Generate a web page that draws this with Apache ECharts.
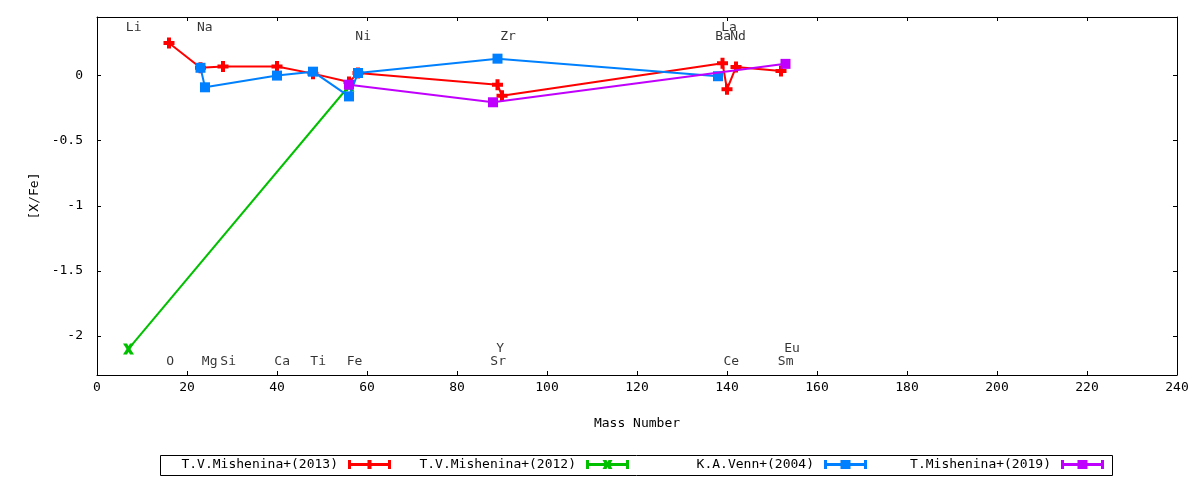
<!DOCTYPE html>
<html>
<head>
<meta charset="utf-8">
<script src="https://cdn.jsdelivr.net/npm/echarts@6/dist/echarts.min.js"></script>
<style>
html,body{margin:0;padding:0;background:#fff;}
#c{width:1200px;height:480px;}
</style>
</head>
<body>
<div id="c"></div>
<script>
// ---- data ----
const seriesNames = ['T.V.Mishenina+(2013)', 'T.V.Mishenina+(2012)', 'K.A.Venn+(2004)', 'T.Mishenina+(2019)'];

const mish2013Mass = [16, 23, 28, 40, 48, 56, 58, 89, 90, 139, 140, 142, 152];
const mish2013Val  = [0.25, 0.06, 0.07, 0.07, 0.015, -0.05, 0.02, -0.07, -0.155, 0.095, -0.105, 0.065, 0.035];

const mish2012Mass = [7, 56];
const mish2012Val  = [-2.1, -0.08];

const venn2004Mass = [23, 24, 40, 48, 56, 58, 89, 138];
const venn2004Val  = [0.06, -0.09, 0.0, 0.03, -0.16, 0.02, 0.13, -0.005];

const mish2019Mass = [56, 88, 153];
const mish2019Val  = [-0.07, -0.205, 0.09];

const elemNames = ['Li', 'Na', 'Ni', 'Zr', 'La', 'Ba', 'Nd', 'O', 'Mg', 'Si', 'Ca', 'Ti', 'Fe', 'Sr', 'Y', 'Ce', 'Sm', 'Eu'];
const elemX     = [6.4, 22.2, 57.4, 89.6, 138.7, 137.4, 140.7, 15.4, 23.3, 27.4, 39.4, 47.4, 55.5, 87.4, 88.7, 139.2, 151.3, 152.7];
const elemY     = [0.37, 0.37, 0.30, 0.30, 0.37, 0.30, 0.30, -2.2, -2.2, -2.2, -2.2, -2.2, -2.2, -2.2, -2.1, -2.2, -2.2, -2.1];

const colors = ['#ff0000', '#00c000', '#0080ff', '#c000ff'];

// ---- build ----
const FONT = 'DejaVu Sans Mono';
function pairs(xs, ys) { return xs.map((x, i) => [x, ys[i]]); }

const plusSym = 'path://M3.5,0h4v11h-4z M0,3.5h11v4h-11z';
const crossSym = 'path://M0,0h4l1.5,2.5l1.5,-2.5h4l-3.5,5.5l3.5,5.5h-4l-1.5,-2.5l-1.5,2.5h-4l3.5,-5.5z';

const iconBase = 'M0,0h3v9h-3z M40,0h3v9h-3z M0,3h43v3h-43z';
const icons = [
  'path://' + iconBase + ' M19.5,0h4v9h-4z',
  'path://' + iconBase + ' M16.5,0h4l1,2l1,-2h4l-2.5,4.5l2.5,4.5h-4l-1,-2l-1,2h-4l2.5,-4.5z',
  'path://' + iconBase + ' M16.5,0h10v9h-10z',
  'path://' + iconBase + ' M16.5,0h10v9h-10z'
];
const legendRights = [809, 571, 333, 96];

const dataSets = [
  pairs(mish2013Mass, mish2013Val),
  pairs(mish2012Mass, mish2012Val),
  pairs(venn2004Mass, venn2004Val),
  pairs(mish2019Mass, mish2019Val)
];
const symbols = [plusSym, crossSym, 'rect', 'rect'];
const symSizes = [11, 11, 10, 10];

const series = seriesNames.map((n, i) => ({
  name: n,
  type: 'line',
  data: dataSets[i],
  symbol: symbols[i],
  symbolSize: symSizes[i],
  showAllSymbol: true,
  lineStyle: { color: colors[i], width: 2 },
  itemStyle: { color: colors[i] },
  z: 2 + i,
  animation: false
}));

series.push({
  type: 'scatter',
  data: elemNames.map((n, i) => ({ name: n, value: [elemX[i], elemY[i]] })),
  symbolSize: 1,
  itemStyle: { color: 'transparent' },
  silent: true,
  label: {
    show: true,
    position: 'inside',
    align: 'left',
    verticalAlign: 'middle',
    formatter: '{b}',
    color: '#000',
    fontFamily: FONT,
    fontSize: 13
  },
  z: 10,
  animation: false
});

function axisCommon() {
  return {
    axisLine: { show: true, onZero: false, lineStyle: { color: '#000', width: 1 } },
    axisTick: { show: true, inside: true, length: 4, lineStyle: { color: '#000' } },
    splitLine: { show: false }
  };
}

const option = {
  backgroundColor: '#fff',
  animation: false,
  color: colors,
  grid: { left: 97, right: 23, top: 17, bottom: 105, containLabel: false },
  xAxis: [
    Object.assign({
      type: 'value', min: 0, max: 240, interval: 20, position: 'bottom',
      name: 'Mass Number', nameLocation: 'middle', nameGap: 42,
      nameTextStyle: { color: '#000', fontFamily: FONT, fontSize: 13 },
      axisLabel: { color: '#000', fontFamily: FONT, fontSize: 13, margin: 6 }
    }, axisCommon()),
    Object.assign({
      type: 'value', min: 0, max: 240, interval: 20, position: 'top',
      axisLabel: { show: false }
    }, axisCommon())
  ],
  yAxis: [
    Object.assign({
      type: 'value', min: -2.3, max: 0.45, splitNumber: 5, position: 'left',
      name: '[X/Fe]', nameLocation: 'middle', nameGap: 56, nameRotate: 90,
      nameTextStyle: { color: '#000', fontFamily: FONT, fontSize: 13 },
      axisLabel: { color: '#000', fontFamily: FONT, fontSize: 13, margin: 14, showMinLabel: false, showMaxLabel: false }
    }, axisCommon()),
    Object.assign({
      type: 'value', min: -2.3, max: 0.45, splitNumber: 5, position: 'right',
      axisLabel: { show: false }
    }, axisCommon())
  ],
  legend: seriesNames.map((n, i) => ({
    data: [{ name: n, icon: icons[i] }],
    right: legendRights[i],
    top: 458,
    padding: 0,
    align: 'right',
    itemWidth: 43,
    itemHeight: 9,
    selectedMode: false,
    textStyle: { color: '#000', fontFamily: FONT, fontSize: 13, padding: [0, 5, 0, 0] }
  })),
  graphic: [{
    type: 'rect',
    shape: { x: 160.5, y: 455.5, width: 952, height: 20 },
    style: { fill: 'none', stroke: '#000', lineWidth: 1 },
    silent: true
  }],
  series: series
};

const chart = echarts.init(document.getElementById('c'), null, { renderer: 'canvas' });
chart.setOption(option);
</script>
</body>
</html>
